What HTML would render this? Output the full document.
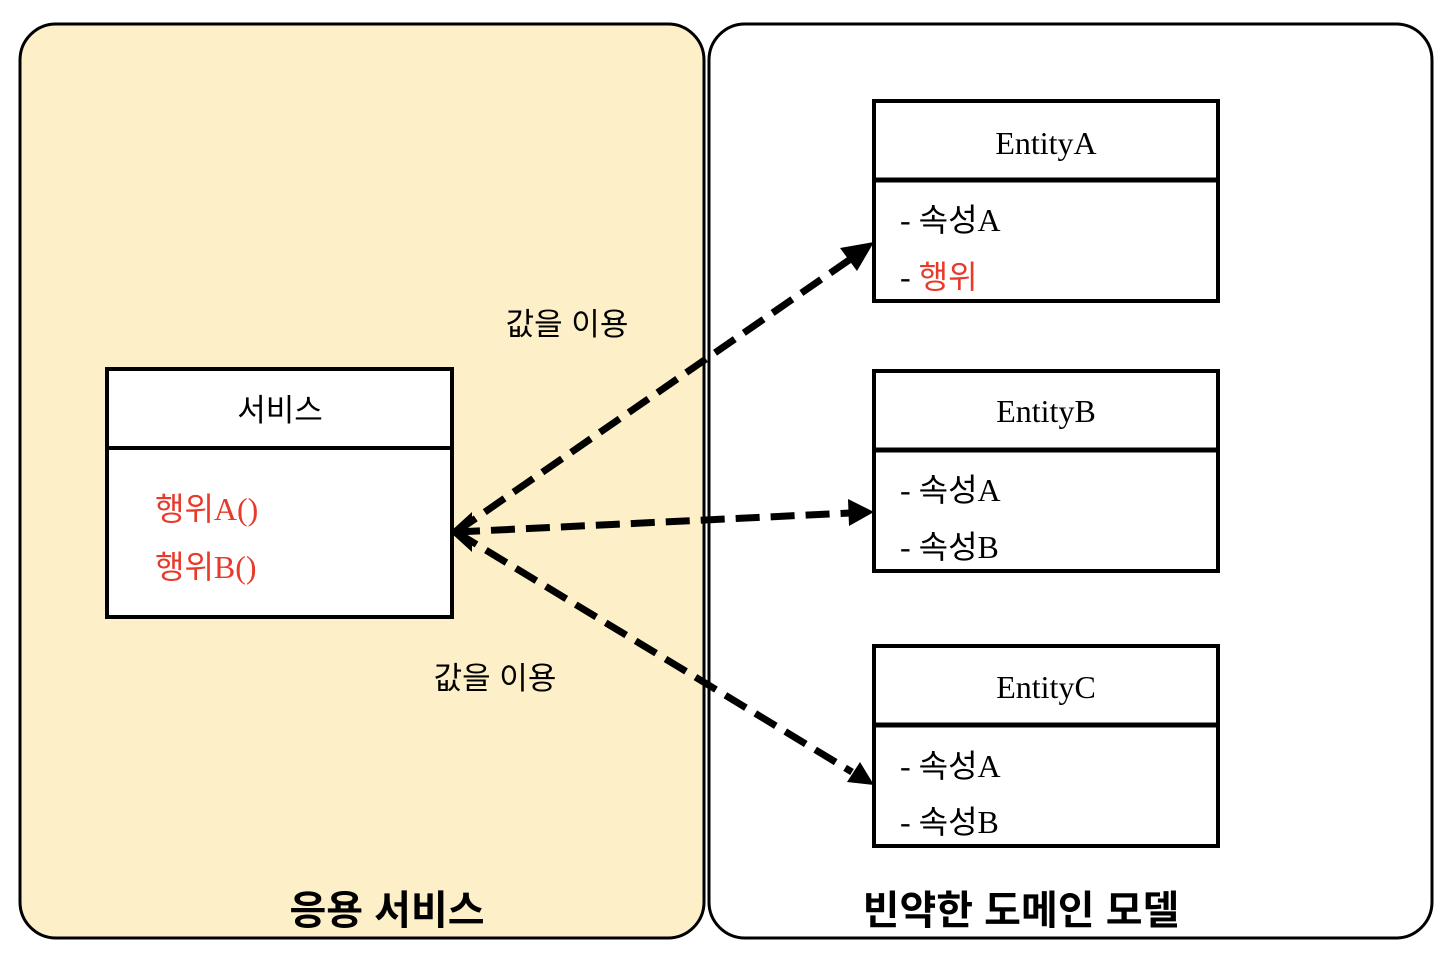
<!DOCTYPE html>
<html><head><meta charset="utf-8"><style>
body{margin:0;background:#fff;}
svg{display:block}
.s{font-family:"Liberation Serif","Noto Sans CJK KR",serif;}
.k{font-family:"Liberation Sans","Noto Sans CJK KR",sans-serif;}
</style></head><body>
<svg width="1456" height="964" xmlns="http://www.w3.org/2000/svg">
<rect x="20" y="24" width="684" height="914" rx="36" fill="#fdefc8" stroke="#000" stroke-width="3"/>
<rect x="709" y="24" width="723" height="914" rx="36" fill="#fff" stroke="#000" stroke-width="3"/>
<rect x="107" y="369" width="345" height="248" fill="#fff" stroke="#000" stroke-width="4"/>
<line x1="107" y1="448" x2="452" y2="448" stroke="#000" stroke-width="4"/>
<text x="280" y="421" text-anchor="middle" class="k" font-size="31" fill="#000">서비스</text>
<text x="155" y="520" class="s" font-size="32" fill="#e8392a">행위A()</text>
<text x="155" y="578" class="s" font-size="32" fill="#e8392a">행위B()</text>
<g stroke="#000" stroke-width="4" fill="#fff">
<rect x="874" y="101" width="344" height="200"/><line x1="874" y1="180" x2="1218" y2="180" stroke-width="5"/>
<rect x="874" y="371" width="344" height="200"/><line x1="874" y1="450" x2="1218" y2="450" stroke-width="5"/>
<rect x="874" y="646" width="344" height="200"/><line x1="874" y1="725" x2="1218" y2="725" stroke-width="5"/>
</g>
<g class="s" font-size="32" fill="#000">
<text x="1046" y="154" text-anchor="middle">EntityA</text>
<text x="900" y="231">- 속성A</text>
<text x="900" y="288">- <tspan fill="#e8392a">행위</tspan></text>
<text x="1046" y="422" text-anchor="middle">EntityB</text>
<text x="900" y="501">- 속성A</text>
<text x="900" y="558">- 속성B</text>
<text x="1046" y="698" text-anchor="middle">EntityC</text>
<text x="900" y="777">- 속성A</text>
<text x="900" y="833">- 속성B</text>
</g>
<g stroke="#000" stroke-width="7" stroke-dasharray="24,11" fill="none">
<line x1="456" y1="532" x2="852" y2="258"/>
<line x1="456" y1="532" x2="850" y2="513"/>
<line x1="456" y1="532" x2="852" y2="772"/>
</g>
<g fill="#000">
<polygon points="874,242 840,248 857,271"/>
<polygon points="874,512 848,499 849,526"/>
<polygon points="874,785 847,782 860,762"/>
<polygon points="450,532 472,512 472,519 463,532 472,545 472,552"/>
</g>
<text x="567" y="335" text-anchor="middle" class="k" font-size="31" fill="#000">값을 이용</text>
<text x="495" y="689" text-anchor="middle" class="k" font-size="31" fill="#000">값을 이용</text>
<text x="387" y="924" text-anchor="middle" class="k" font-size="40" font-weight="bold" fill="#000">응용 서비스</text>
<text x="1021" y="924" text-anchor="middle" class="k" font-size="40" font-weight="bold" fill="#000">빈약한 도메인 모델</text>
</svg>
</body></html>
